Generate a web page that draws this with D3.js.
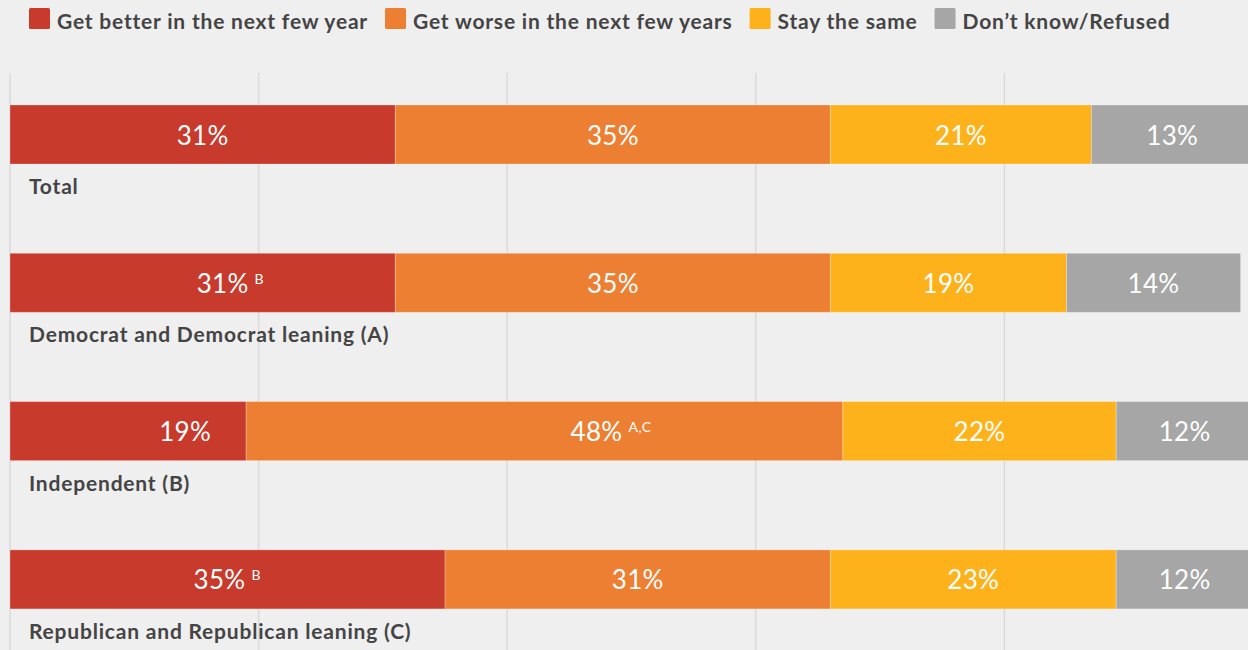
<!DOCTYPE html>
<html>
<head>
<meta charset="utf-8">
<script src="https://cdn.jsdelivr.net/npm/d3@7"></script>
<style>
  html, body { margin: 0; padding: 0; background: #efefef; }
  svg { display: block; font-family: Lato, "Noto Sans", sans-serif; }
</style>
</head>
<body>
<svg id="chart" width="1248" height="650"></svg>
<script>
// Survey responses by party identification (percent)
const groups = ["Total", "Democrat and Democrat leaning (A)", "Independent (B)", "Republican and Republican leaning (C)"];
const seriesNames = ["Get better in the next few year", "Get worse in the next few years", "Stay the same", "Don\u2019t know/Refused"];
const better  = [31, 31, 19, 35];
const worse   = [35, 35, 48, 31];
const same    = [21, 19, 22, 23];
const unsure  = [13, 14, 12, 12];
// significance letters shown next to a value (group index, series index, note)
const notes = [
  [1, 0, "B"],
  [2, 1, "A,C"],
  [3, 0, "B"]
];
const gridTicks = [0, 20, 40, 60, 80];

const colors = ["#c83a2b", "#ed7f32", "#fdb21b", "#a6a6a6"];
const values = [better, worse, same, unsure];

const svg = d3.select("#chart");
const W = 1248, H = 650;

const x = d3.scaleLinear().domain([0, 100]).range([10, 1253]);
const y = d3.scaleBand().domain(groups)
  .range([105, 105 + 3 * 148.3 + 59])
  .paddingInner((148.3 - 59) / 148.3)
  .paddingOuter(0);

// vertical gridlines
svg.append("g").selectAll("line").data(gridTicks).join("line")
  .attr("x1", d => x(d)).attr("x2", d => x(d))
  .attr("y1", 73).attr("y2", H)
  .attr("stroke", "#dadada").attr("stroke-width", 1.5);

// stacked data
const rows = groups.map((g, i) => {
  const obj = { group: g };
  seriesNames.forEach((s, j) => obj[s] = values[j][i]);
  return obj;
});
const stacked = d3.stack().keys(seriesNames)(rows);

const layer = svg.append("g").selectAll("g").data(stacked).join("g")
  .attr("fill", (d, i) => colors[i]);

layer.selectAll("rect").data(d => d).join("rect")
  .attr("x", d => x(d[0]))
  .attr("width", d => x(d[1]) - x(d[0]))
  .attr("y", d => y(d.data.group))
  .attr("height", y.bandwidth())
  .attr("stroke", "rgba(255,255,255,0.25)")
  .attr("stroke-width", 1);

// horizontal nudges for a few value labels (group index, series index, dx)
const nudges = { "1-0": 20, "2-0": 57, "2-1": 52, "3-0": -8 };

const labels = svg.append("g");
stacked.forEach((layerData, si) => {
  layerData.forEach((d, gi) => {
    const cx = (x(d[0]) + x(Math.min(d[1], 100))) / 2 + (nudges[gi + "-" + si] || 0);
    const cy = y(d.data.group) + y.bandwidth() / 2 + 10;
    const t = labels.append("text")
      .attr("x", cx).attr("y", cy)
      .attr("text-anchor", "middle")
      .attr("fill", "#fff")
      .attr("font-size", 26)
      .attr("font-weight", 400)
      .attr("letter-spacing", 0.3)
      .text(values[si][gi] + "%");
    const note = notes.find(n => n[0] === gi && n[1] === si);
    if (note) {
      const w = t.node().getComputedTextLength();
      labels.append("text")
        .attr("x", cx + w / 2 + 6).attr("y", cy - 9)
        .attr("fill", "#fff")
        .attr("font-size", 14)
        .attr("font-weight", 400)
        .attr("letter-spacing", 0.5)
        .text(note[2]);
    }
  });
});

// group names beneath each bar
svg.append("g").selectAll("text").data(groups).join("text")
  .attr("x", 29)
  .attr("y", d => y(d) + y.bandwidth() + 30)
  .attr("fill", "#444")
  .attr("font-size", 21)
  .attr("font-weight", 700)
  .attr("letter-spacing", 0.8)
  .text(d => d);

// legend
const legend = svg.append("g");
let lx = 29;
seriesNames.forEach((s, i) => {
  legend.append("rect")
    .attr("x", lx).attr("y", 8).attr("width", 21).attr("height", 21)
    .attr("rx", 1.5).attr("fill", colors[i]);
  const t = legend.append("text")
    .attr("x", lx + 28).attr("y", 29)
    .attr("fill", "#444")
    .attr("font-size", 21)
    .attr("font-weight", 700)
    .attr("letter-spacing", 0.8)
    .text(s);
  lx += 28 + t.node().getComputedTextLength() + 17;
});
</script>
</body>
</html>
